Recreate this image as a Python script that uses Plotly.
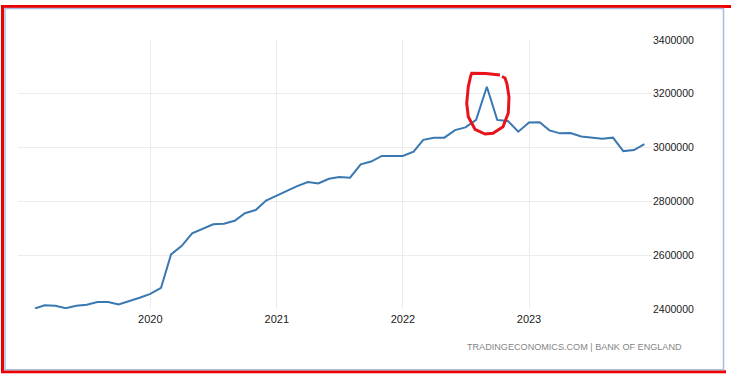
import pandas as pd
import plotly.graph_objects as go

# ---- data ----
start_month = "2019-02-01"
values = [
    2402000, 2414000, 2412000, 2403000, 2412000, 2416000, 2426000, 2426000, 2417000, 2429000, 2442000,
    2456000, 2479000, 2603000, 2635000, 2681000, 2699000, 2715000, 2717000, 2728000, 2756000, 2768000, 2803000,
    2820000, 2840000, 2857000, 2872000, 2867000, 2884000, 2891000, 2888000, 2938000, 2948000, 2969000, 2970000,
    2969000, 2985000, 3029000, 3037000, 3037000, 3065000, 3075000, 3103000, 3226000, 3103000, 3099000, 3059000,
    3093000, 3094000, 3064000, 3053000, 3054000, 3041000, 3037000, 3033000, 3037000, 2987000, 2991000, 3013000,
]
dates = pd.date_range(start_month, periods=len(values), freq="MS")
x_ticks = ["2020-01-01", "2021-01-01", "2022-01-01", "2023-01-01"]
x_tick_labels = ["2020", "2021", "2022", "2023"]
y_ticks = [2400000, 2600000, 2800000, 3000000, 3200000, 3400000]
y_tick_labels = [str(v) for v in y_ticks]
source_text = "TRADINGECONOMICS.COM | BANK OF ENGLAND"

W, H = 731, 376
L, R, T, B = 18, 652, 40, 309  # plot area in pixels


def px(x):
    return (x - L) / (R - L)


def py(y):
    return (B - y) / (B - T)


fig = go.Figure()
fig.add_trace(go.Scatter(
    x=dates, y=values, mode="lines",
    line=dict(color="#3a78b2", width=2),
    hoverinfo="skip", showlegend=False,
))

shapes = []
# red outer frame (screenshot markup)
red = "#ee0000"
shapes.append(dict(type="line", xref="paper", yref="paper", x0=px(1), x1=px(731), y0=py(6.5), y1=py(6.5),
                   line=dict(color=red, width=3)))
shapes.append(dict(type="line", xref="paper", yref="paper", x0=px(2.5), x1=px(2.5), y0=py(5), y1=py(373),
                   line=dict(color=red, width=3)))
shapes.append(dict(type="line", xref="paper", yref="paper", x0=px(1), x1=px(726), y0=py(371.7), y1=py(371.7),
                   line=dict(color=red, width=3)))
# thin blue-grey inner frame
shapes.append(dict(type="rect", xref="paper", yref="paper", x0=px(5), x1=px(723.5), y0=py(8.5), y1=py(369.8),
                   line=dict(color="#a8bce0", width=1.5)))

# red hand-drawn circle around the peak
circle_pts = [(500, 75), (486, 73.5), (471.7, 73.3), (470.7, 76), (468.3, 86.7), (466.7, 103.3),
              (468.3, 116.7), (475, 129.3), (485, 134), (493, 133.3), (503, 126.7),
              (508.3, 113), (509, 97), (507, 84), (505, 78), (502, 76.5)]
path = "M " + " L ".join(f"{px(a):.5f},{py(b):.5f}" for a, b in circle_pts)
shapes.append(dict(type="path", xref="paper", yref="paper", path=path,
                   line=dict(color="#e8141c", width=3)))

fig.update_layout(
    width=W, height=H,
    margin=dict(l=L, r=W - R, t=T, b=H - B, pad=0),
    paper_bgcolor="white", plot_bgcolor="white",
    font=dict(family="Liberation Sans, Arial, sans-serif", size=11, color="#222"),
    shapes=shapes,
    annotations=[dict(
        text=source_text, xref="paper", yref="paper",
        x=px(684), y=py(347), xanchor="right", yanchor="middle", showarrow=False,
        font=dict(family="Liberation Sans, Arial, sans-serif", size=9.1, color="#858585"),
    )],
    xaxis=dict(
        range=["2018-12-14", "2023-12-23"],
        tickvals=x_ticks, ticktext=x_tick_labels,
        showgrid=True, gridcolor="#ececec", gridwidth=1,
        showline=False, zeroline=False, ticks="", ticklen=0,
        ticklabelstandoff=2,
        tickfont=dict(size=11, color="#1a1a1a"),
        fixedrange=True,
    ),
    yaxis=dict(
        range=[2400000, 3400000], side="right",
        tickvals=y_ticks, ticktext=y_tick_labels,
        showgrid=True, gridcolor="#ececec", gridwidth=1,
        showline=False, zeroline=False, ticks="", ticklen=0,
        tickfont=dict(size=10.5, color="#1a1a1a"),
        fixedrange=True,
    ),
)

fig.write_html(
    "out.html",
    config={"displayModeBar": False},
    post_script="document.body.style.margin='0';document.body.style.padding='0';document.body.style.overflow='hidden';",
)
